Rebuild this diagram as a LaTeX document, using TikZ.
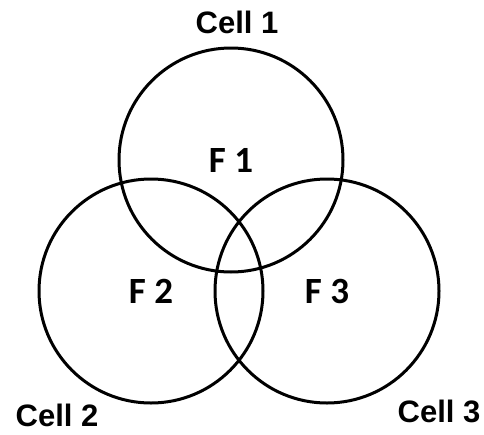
\documentclass[tikz,border=0pt]{standalone}
\usepackage{fontspec}
\setmainfont{Liberation Sans}
\newfontfamily\calibfont{Carlito}
\usetikzlibrary{positioning}

\begin{document}
\begin{tikzpicture}[
  x=1pt, y=-1pt,
  cell/.style={draw, circle, line width=3pt, minimum size=224pt, inner sep=0pt,
    font=\calibfont\bfseries\fontsize{37}{40}\selectfont},
  lab/.style={font=\bfseries\fontsize{31}{34}\selectfont, inner sep=0pt}
]
\useasboundingbox (0,0) rectangle (484,434);

\node[cell] (c1) at (231,160) {F 1};
\node[cell] (c2) at (151,291) {F 2};
\node[cell] (c3) at (327,291) {F 3};

\node[lab] (l1) at (237,22) {Cell 1};
\node[lab] (l2) at (57,415) {Cell 2};
\node[lab] (l3) at (439,411) {Cell 3};
\end{tikzpicture}
\end{document}
